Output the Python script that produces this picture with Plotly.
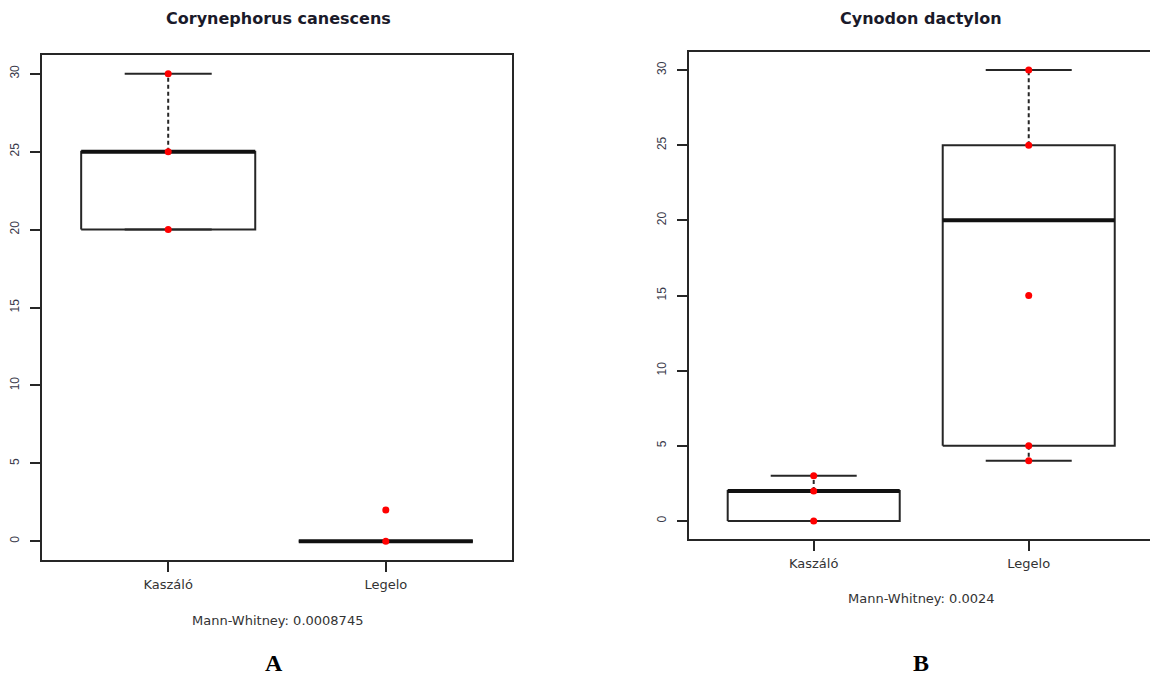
import plotly.graph_objects as go

W, H = 1150, 679

categories = ["Kaszáló", "Legelo"]

# Panel A: Corynephorus canescens
a_title = "Corynephorus canescens"
a_test = "Mann-Whitney: 0.0008745"
a_q1 = [20, 0]
a_med = [25, 0]
a_q3 = [25, 0]
a_lo = [20, 0]
a_hi = [30, 0]
a_points = [[30, 25, 20], [2, 0]]

# Panel B: Cynodon dactylon
b_title = "Cynodon dactylon"
b_test = "Mann-Whitney: 0.0024"
b_q1 = [0, 5]
b_med = [2, 20]
b_q3 = [2, 25]
b_lo = [0, 4]
b_hi = [3, 30]
b_points = [[3, 2, 0], [30, 25, 15, 5, 4]]

y_ticks = [0, 5, 10, 15, 20, 25, 30]

LINE = "#262626"
BOXW = 0.4   # half box width
CAPW = 0.2   # half cap width

fig = go.Figure()


def add_panel(xa, ya, q1, med, q3, lo, hi, pts):
    for i in range(len(categories)):
        xc = i + 1
        # whiskers (dashed)
        fig.add_trace(go.Scatter(x=[xc, xc], y=[q3[i], hi[i]], mode="lines",
                                 line=dict(color=LINE, width=2, dash="4px,3px"),
                                 xaxis=xa, yaxis=ya, showlegend=False, hoverinfo="skip"))
        fig.add_trace(go.Scatter(x=[xc, xc], y=[q1[i], lo[i]], mode="lines",
                                 line=dict(color=LINE, width=2, dash="4px,3px"),
                                 xaxis=xa, yaxis=ya, showlegend=False, hoverinfo="skip"))
        # caps
        for v in (lo[i], hi[i]):
            fig.add_trace(go.Scatter(x=[xc - CAPW, xc + CAPW], y=[v, v], mode="lines",
                                     line=dict(color=LINE, width=2),
                                     xaxis=xa, yaxis=ya, showlegend=False, hoverinfo="skip"))
        # box
        fig.add_trace(go.Scatter(x=[xc - BOXW, xc + BOXW, xc + BOXW, xc - BOXW, xc - BOXW],
                                 y=[q1[i], q1[i], q3[i], q3[i], q1[i]], mode="lines",
                                 line=dict(color=LINE, width=2),
                                 xaxis=xa, yaxis=ya, showlegend=False, hoverinfo="skip"))
        # median
        fig.add_trace(go.Scatter(x=[xc - BOXW, xc + BOXW], y=[med[i], med[i]], mode="lines",
                                 line=dict(color="#111111", width=4),
                                 xaxis=xa, yaxis=ya, showlegend=False, hoverinfo="skip"))
        # points
        fig.add_trace(go.Scatter(x=[xc] * len(pts[i]), y=pts[i], mode="markers",
                                 marker=dict(color="#ff0000", size=7),
                                 xaxis=xa, yaxis=ya, showlegend=False))


add_panel("x", "y", a_q1, a_med, a_q3, a_lo, a_hi, a_points)
add_panel("x2", "y2", b_q1, b_med, b_q3, b_lo, b_hi, b_points)

tick_font = dict(family="DejaVu Sans", size=13, color="#333333")
ytick_font = dict(family="Liberation Sans", size=12, color="#3a3a4a")

common_x = dict(tickmode="array", tickvals=[1, 2], ticktext=categories,
                ticks="outside", ticklen=10, tickwidth=2, tickcolor=LINE,
                showline=True, linecolor=LINE, linewidth=2,
                showgrid=False, zeroline=False, tickfont=tick_font,
                ticklabelstandoff=1)
common_y = dict(tickmode="array", tickvals=y_ticks, ticktext=[str(v) for v in y_ticks],
                range=[-1.2, 31.2], ticks="outside", ticklen=10, tickwidth=2, tickcolor=LINE,
                showline=True, linecolor=LINE, linewidth=2, tickangle=-90,
                showgrid=False, zeroline=False, tickfont=ytick_font,
                ticklabelstandoff=6)

fig.update_layout(
    width=W, height=H,
    margin=dict(l=0, r=0, t=0, b=0),
    paper_bgcolor="white", plot_bgcolor="white",
    xaxis=dict(domain=[42 / W, 512 / W], range=[0.42, 2.58], anchor="y", mirror=True, **common_x),
    yaxis=dict(domain=[1 - 560 / H, 1 - 55 / H], anchor="x", mirror=True, **common_y),
    xaxis2=dict(domain=[689 / W, 1.0], range=[0.42, 2.564], anchor="y2", mirror=True, **common_x),
    yaxis2=dict(domain=[1 - 539 / H, 1 - 52 / H], anchor="x2", mirror=False, **common_y),
)

ann = []
title_font = dict(family="DejaVu Sans", size=16, color="#1a1a2a")
ann.append(dict(text="<b>" + a_title + "</b>", x=278 / W, y=1 - 18 / H, xref="paper", yref="paper",
                showarrow=False, font=title_font, xanchor="center", yanchor="middle"))
ann.append(dict(text="<b>" + b_title + "</b>", x=921 / W, y=1 - 18 / H, xref="paper", yref="paper",
                showarrow=False, font=title_font, xanchor="center", yanchor="middle"))
ann.append(dict(text=a_test, x=277 / W, y=1 - 620 / H, xref="paper", yref="paper",
                showarrow=False, font=tick_font, xanchor="center", yanchor="middle"))
ann.append(dict(text=b_test, x=921 / W, y=1 - 598 / H, xref="paper", yref="paper",
                showarrow=False, font=tick_font, xanchor="center", yanchor="middle"))
letter_font = dict(family="Liberation Serif", size=24, color="black")
ann.append(dict(text="<b>A</b>", x=274 / W, y=1 - 663 / H, xref="paper", yref="paper",
                showarrow=False, font=letter_font, xanchor="center", yanchor="middle", borderpad=0))
ann.append(dict(text="<b>B</b>", x=921 / W, y=1 - 663 / H, xref="paper", yref="paper",
                showarrow=False, font=letter_font, xanchor="center", yanchor="middle", borderpad=0))
fig.update_layout(annotations=ann)

fig.write_html("out.html")
